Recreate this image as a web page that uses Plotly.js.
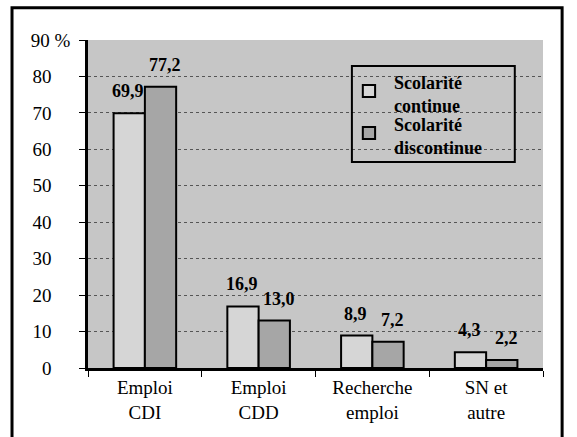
<!DOCTYPE html>
<html>
<head>
<meta charset="utf-8">
<script src="https://cdn.plot.ly/plotly-3.0.1.min.js"></script>
<style>
html,body{margin:0;padding:0;background:#fff;}
#chart{width:577px;height:437px;}
#chart svg text, #chart svg tspan{font-family:"Liberation Serif", "Times New Roman", serif !important;}
</style>
</head>
<body>
<div id="chart"></div>
<script>
var categories = ["Emploi<br>CDI", "Emploi<br>CDD", "Recherche<br>emploi", "SN et<br>autre"];
var seriesNames = ["Scolarité<br>continue", "Scolarité<br>discontinue"];
var continueValues = [69.9, 16.9, 8.9, 4.3];
var discontinueValues = [77.2, 13.0, 7.2, 2.2];
var continueLabels = ["69,9", "16,9", "8,9", "4,3"];
var discontinueLabels = ["77,2", "13,0", "7,2", "2,2"];
var yTickVals = [0, 10, 20, 30, 40, 50, 60, 70, 80, 90];
var yTickLabels = ["0", "10", "20", "30", "40", "50", "60", "70", "80", "90 %"];
var seriesColors = ["#d6d6d6", "#a6a6a6"];

var serif = "Liberation Serif";
var pad = "\u00a0\u00a0\u00a0\u00a0\u00a0";
var yTickText = yTickLabels.map(function (t, i) { return i === yTickLabels.length - 1 ? t + "\u00a0" : t + pad; });

var traces = [
  {type: "bar", name: seriesNames[0], x: categories, y: continueValues, showlegend: false,
   marker: {color: seriesColors[0], line: {color: "#000", width: 2}}, hoverinfo: "none"},
  {type: "bar", name: seriesNames[1], x: categories, y: discontinueValues, showlegend: false,
   marker: {color: seriesColors[1], line: {color: "#000", width: 2}}, hoverinfo: "none"}
];

var labelFont = {family: serif, size: 18, color: "#000"};
var annotations = [];
for (var i = 0; i < categories.length; i++) {
  annotations.push({x: categories[i], y: continueValues[i], xref: "x", yref: "y", text: "<b>" + continueLabels[i] + "</b>",
    showarrow: false, xshift: -17, yshift: 10, yanchor: "bottom", font: labelFont});
  annotations.push({x: categories[i], y: discontinueValues[i], xref: "x", yref: "y", text: "<b>" + discontinueLabels[i] + "</b>",
    showarrow: false, xshift: 20, yshift: 10, yanchor: "bottom", font: labelFont});
}

// legend drawn as box + swatches + texts
var legendTextY = [0.826, 0.698];
var legendSwatchY = [[0.826, 0.863], [0.698, 0.735]];
var shapes = [
  {type: "rect", xref: "paper", yref: "paper", x0: -0.167, x1: 1.042, y0: -0.215, y1: 1.098,
   line: {color: "#000", width: 3}, fillcolor: "rgba(0,0,0,0)", layer: "above"},
  {type: "rect", xref: "paper", yref: "paper", x0: 0.580, x1: 0.938, y0: 0.628, y1: 0.921,
   line: {color: "#000", width: 2}, fillcolor: "rgba(0,0,0,0)", layer: "above"}
];
for (var k = 0; k < seriesNames.length; k++) {
  shapes.push({type: "rect", xref: "paper", yref: "paper", x0: 0.604, x1: 0.631,
    y0: legendSwatchY[k][0], y1: legendSwatchY[k][1],
    line: {color: "#000", width: 2}, fillcolor: seriesColors[k], layer: "above"});
  annotations.push({x: 0.668, y: legendTextY[k] + 0.008, xref: "paper", yref: "paper", text: "<b>" + seriesNames[k] + "</b>",
    showarrow: false, xanchor: "left", yanchor: "middle", align: "left", font: {family: serif, size: 18, color: "#000"}});
}

var layout = {
  width: 577, height: 437,
  margin: {l: 88, r: 34, t: 40, b: 69},
  paper_bgcolor: "#ffffff",
  plot_bgcolor: "#c6c6c6",
  font: {family: serif, color: "#000"},
  barmode: "group",
  bargap: 0.45,
  bargroupgap: 0,
  showlegend: false,
  xaxis: {
    type: "category",
    showline: true, linecolor: "#000", linewidth: 3,
    ticks: "outside", tickson: "boundaries", ticklen: 6, tickcolor: "#000", tickwidth: 1,
    tickfont: {family: serif, size: 19, color: "#000"},
    showgrid: false, zeroline: false
  },
  yaxis: {
    range: [0, 90],
    tickvals: yTickVals, ticktext: yTickText,
    showline: true, linecolor: "#000", linewidth: 3,
    ticks: "outside", ticklen: 6, tickcolor: "#000", tickwidth: 1,
    tickfont: {family: serif, size: 19, color: "#000"},
    showgrid: true, gridcolor: "#555", griddash: "dot", gridwidth: 1,
    zeroline: false
  },
  annotations: annotations,
  shapes: shapes
};

Plotly.newPlot("chart", traces, layout, {displayModeBar: false});
</script>
</body>
</html>
